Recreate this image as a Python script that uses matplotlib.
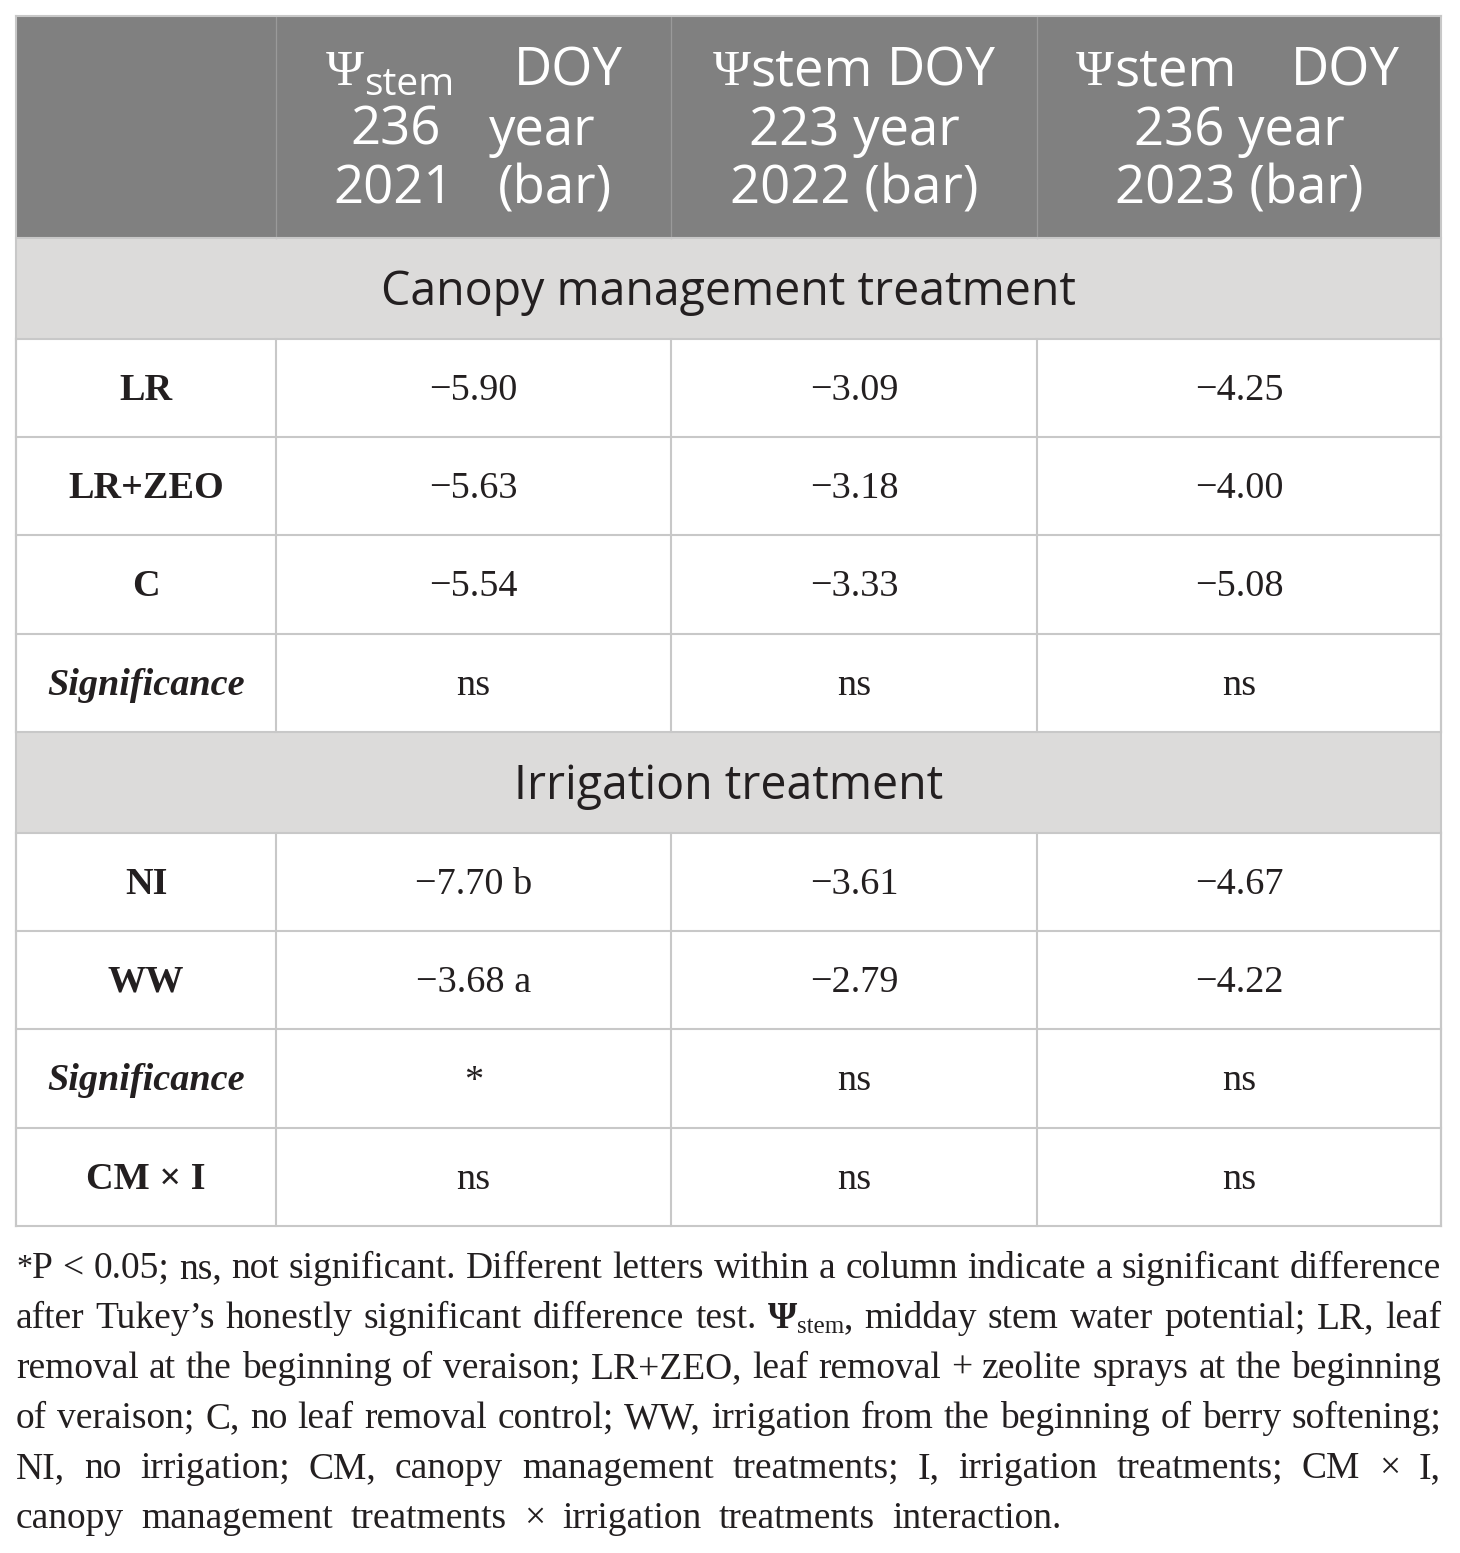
import matplotlib
matplotlib.use('Agg')
import matplotlib.pyplot as plt
from matplotlib.patches import Rectangle

# ---------------- data ----------------
col_years = ['2021', '2022', '2023']
col_doy = ['236', '223', '236']
canopy_labels = ['LR', 'LR+ZEO', 'C']
canopy_2021 = [-5.90, -5.63, -5.54]
canopy_2022 = [-3.09, -3.18, -3.33]
canopy_2023 = [-4.25, -4.00, -5.08]
canopy_sig = ['ns', 'ns', 'ns']
irr_labels = ['NI', 'WW']
irr_2021 = [-7.70, -3.68]
irr_2021_letters = ['b', 'a']
irr_2022 = [-3.61, -2.79]
irr_2023 = [-4.67, -4.22]
irr_sig = ['*', 'ns', 'ns']
interaction_label = 'CM × I'
interaction_sig = ['ns', 'ns', 'ns']
section_titles = ['Canopy management treatment', 'Irrigation treatment']
footnote_lines = [
    "*P < 0.05; ns, not significant. Different letters within a column indicate a significant difference",
    "after Tukey\u2019s honestly significant difference test. \u03a8stem, midday stem water potential; LR, leaf",
    "removal at the beginning of veraison; LR+ZEO, leaf removal + zeolite sprays at the beginning",
    "of veraison; C, no leaf removal control; WW, irrigation from the beginning of berry softening;",
    "NI, no irrigation; CM, canopy management treatments; I, irrigation treatments; CM \u00d7 I,",
    "canopy management treatments \u00d7 irrigation treatments interaction.",
]

# ---------------- style ----------------
W, H = 1460, 1553
TXT = '#231f20'
HEAD_BG = '#808080'
SEC_BG = '#dcdbda'
GRID = '#c8c8c8'
SERIF = 'Liberation Serif'
SANS = 'Open Sans'

fig = plt.figure(figsize=(W / 100, H / 100), dpi=100)
ax = fig.add_axes([0, 0, 1, 1])
ax.set_xlim(0, W)
ax.set_ylim(H, 0)
ax.axis('off')
fig.canvas.draw()
renderer = fig.canvas.get_renderer()


def measure(s, **kw):
    t = ax.text(0, 0, s, **kw)
    w = t.get_window_extent(renderer).width
    t.remove()
    return w


def word_width(runs):
    return sum(measure(s, **kw) for s, kw, dy in runs)


def draw_runs(x, y, runs):
    for s, kw, dy in runs:
        ax.text(x, y + dy, s, ha='left', va='baseline', **kw)
        x += measure(s, **kw)


def draw_centered(xc, y, runs):
    w = word_width(runs)
    draw_runs(xc - w / 2, y, runs)


def draw_justified(x0, x1, y, words, gap=None):
    widths = [word_width(wd) for wd in words]
    if gap is None:
        gap = (x1 - x0 - sum(widths)) / max(len(words) - 1, 1)
    x = x0
    for wd, w in zip(words, widths):
        draw_runs(x, y, wd)
        x += w + gap


# ---------------- geometry ----------------
xs = [16, 276, 671, 1037, 1441]
head_top, head_bot = 16, 238
sec1 = (238, 339)
rows1 = [339, 437, 535, 634, 732]
sec2 = (732, 833)
rows2 = [833, 931, 1029, 1128, 1226]
xc = [(xs[i] + xs[i + 1]) / 2 for i in range(4)]

# backgrounds
ax.add_patch(Rectangle((xs[0], head_top), xs[-1] - xs[0], head_bot - head_top,
                       facecolor=HEAD_BG, edgecolor='none', zorder=0))
for (a, b) in (sec1, sec2):
    ax.add_patch(Rectangle((xs[0], a), xs[-1] - xs[0], b - a,
                           facecolor=SEC_BG, edgecolor='none', zorder=0))

# grid lines
lw = 1.5
for x in xs[1:-1]:
    ax.plot([x, x], [head_top, head_bot], color='#9a9a9a', lw=0.9, zorder=1)
for x in xs:
    ax.plot([x, x], [rows1[0], rows1[-1]], color=GRID, lw=lw, zorder=1)
    ax.plot([x, x], [rows2[0], rows2[-1]], color=GRID, lw=lw, zorder=1)
for x in (xs[0], xs[-1]):
    ax.plot([x, x], [head_top, rows2[-1]], color=GRID, lw=lw, zorder=1)
for y in [head_top, head_bot] + rows1 + rows2:
    ax.plot([xs[0], xs[-1]], [y, y], color=GRID, lw=lw, zorder=1)

# ---------------- header ----------------
hk = dict(family=SANS, size=38, color='white')
psi_k = dict(family=SERIF, size=37, color='white')
sub_k = dict(family=SANS, size=28, color='white')
base = [85, 144.5, 204]

# column 1
draw_justified(326, 623, base[0], [[('\u03a8', psi_k, 0), ('stem', sub_k, 10)], [('DOY', hk, 0)]])
draw_justified(350, 596, base[1], [[(col_doy[0], hk, 0)], [('year', hk, 0)]])
draw_justified(333, 612, base[2], [[(col_years[0], hk, 0)], [('(bar)', hk, 0)]])
# column 2
draw_centered(xc[2], base[0], [('\u03a8', psi_k, 0), ('stem', hk, 0), (' ', hk, 0), ('DOY', hk, 0)])
draw_centered(xc[2], base[1], [(col_doy[1] + ' year', hk, 0)])
draw_centered(xc[2], base[2], [(col_years[1] + ' (bar)', hk, 0)])
# column 3
draw_justified(1076, 1400, base[0], [[('\u03a8', psi_k, 0), ('stem', hk, 0)], [('DOY', hk, 0)]])
draw_centered(xc[3], base[1], [(col_doy[2] + ' year', hk, 0)])
draw_centered(xc[3], base[2], [(col_years[2] + ' (bar)', hk, 0)])

# ---------------- sections ----------------
sk = dict(family=SANS, size=33.5, color=TXT)
for (a, b), title in zip((sec1, sec2), section_titles):
    ax.text((xs[0] + xs[-1]) / 2, (a + b) / 2 + 16, title, ha='center', va='baseline', **sk)

# ---------------- body ----------------
BS = 27.5
bk = dict(family=SERIF, size=BS, color=TXT)
lab_k = dict(family=SERIF, size=BS, color=TXT, weight='bold')
sig_k = dict(family=SERIF, size=BS, color=TXT, weight='bold', style='italic')


def fmt(v):
    return '\u2212%.2f' % abs(v) if v < 0 else '%.2f' % v


def row_base(r0, r1):
    return (r0 + r1) / 2 + 12


for i, lab in enumerate(canopy_labels):
    yb = row_base(rows1[i], rows1[i + 1])
    ax.text(xc[0], yb, lab, ha='center', va='baseline', **lab_k)
    for j, vals in enumerate((canopy_2021, canopy_2022, canopy_2023)):
        ax.text(xc[j + 1], yb, fmt(vals[i]), ha='center', va='baseline', **bk)
yb = row_base(rows1[3], rows1[4])
ax.text(xc[0], yb, 'Significance', ha='center', va='baseline', **sig_k)
for j, s in enumerate(canopy_sig):
    ax.text(xc[j + 1], yb, s, ha='center', va='baseline', **bk)

for i, lab in enumerate(irr_labels):
    yb = row_base(rows2[i], rows2[i + 1])
    ax.text(xc[0], yb, lab, ha='center', va='baseline', **lab_k)
    ax.text(xc[1], yb, fmt(irr_2021[i]) + ' ' + irr_2021_letters[i], ha='center', va='baseline', **bk)
    ax.text(xc[2], yb, fmt(irr_2022[i]), ha='center', va='baseline', **bk)
    ax.text(xc[3], yb, fmt(irr_2023[i]), ha='center', va='baseline', **bk)
yb = row_base(rows2[2], rows2[3])
ax.text(xc[0], yb, 'Significance', ha='center', va='baseline', **sig_k)
for j, s in enumerate(irr_sig):
    ax.text(xc[j + 1], yb, s, ha='center', va='baseline', **bk)
yb = row_base(rows2[3], rows2[4])
ax.text(xc[0], yb, interaction_label, ha='center', va='baseline', **lab_k)
for j, s in enumerate(interaction_sig):
    ax.text(xc[j + 1], yb, s, ha='center', va='baseline', **bk)

# ---------------- footnote ----------------
FS = 27
fk = dict(family=SERIF, size=FS, color=TXT)
fk_sup = dict(family=SERIF, size=FS - 4, color=TXT)
fk_psi = dict(family=SERIF, size=FS, color=TXT, weight='bold')
fk_sub = dict(family=SERIF, size=FS - 9, color=TXT)


def to_words(line):
    words = []
    for w in line.split(' '):
        if w.startswith('*'):
            words.append([('*', fk_sup, -2), (w[1:], fk, 0)])
        elif w.startswith('\u03a8stem'):
            words.append([('\u03a8', fk_psi, 0), ('stem', fk_sub, 5), (w[5:], fk, 0)])
        else:
            words.append([(w, fk, 0)])
    return words


space_w = measure('a a', **fk) - measure('aa', **fk)
fn_base0 = 1278
for k, line in enumerate(footnote_lines):
    y = fn_base0 + 50 * k
    words = to_words(line)
    if k < len(footnote_lines) - 1:
        draw_justified(xs[0], xs[-1], y, words)
    else:
        draw_justified(xs[0], xs[-1], y, words, gap=space_w * 1.85)

fig.savefig('out.png', dpi=100)
